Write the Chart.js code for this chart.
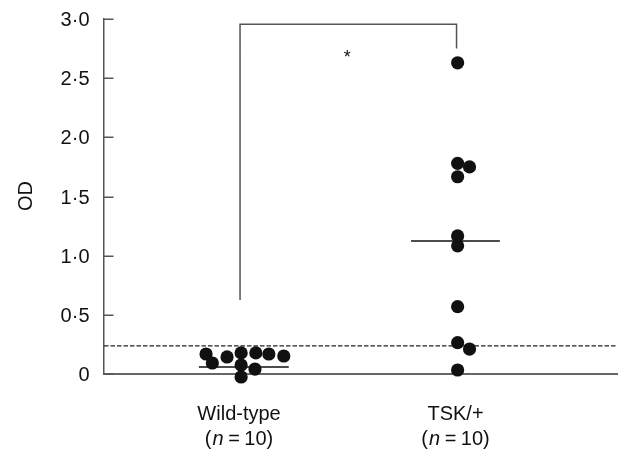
<!DOCTYPE html>
<html><head><meta charset="utf-8">
<script src="https://cdn.jsdelivr.net/npm/chart.js@4/dist/chart.umd.min.js"></script>
<style>html,body{margin:0;padding:0;background:#fff}#wrap{width:624px;height:452px}</style>
</head><body><div id="wrap"><canvas id="c" width="624" height="452"></canvas></div>
<script>
// ---- data ----
const categories = ['Wild-type', 'TSK/+'];
const groupN = [10, 10];
const yTicks = [0, 0.5, 1, 1.5, 2, 2.5, 3];
const yTickLabels = ['0', '0·5', '1·0', '1·5', '2·0', '2·5', '3·0'];
const yTitle = 'OD';
const wildX = [0.843, 0.872, 0.940, 1.005, 1.073, 1.133, 1.202, 1.005, 1.069, 1.005];
const wildY = [0.169, 0.093, 0.144, 0.178, 0.178, 0.169, 0.152, 0.076, 0.042, -0.025];
const tskX = [2.005, 2.005, 2.060, 2.005, 2.005, 2.005, 2.005, 2.005, 2.060, 2.005];
const tskY = [2.63, 1.78, 1.75, 1.667, 1.167, 1.083, 0.569, 0.265, 0.211, 0.034];
const medianWildX = [0.81, 1.225];
const medianWildY = [0.06, 0.06];
const medianTskX = [1.79, 2.20];
const medianTskY = [1.123, 1.123];
const cutoffX = [0.3716, 2.743];
const cutoffY = [0.237, 0.237];
const bracketX = [1, 1, 2, 2];
const bracketY = [0.625, 2.955, 2.955, 2.75];
const sigLabel = '*';
const sigPos = [1.495, 2.72];

const pts = (xs, ys) => xs.map((x, i) => ({x, y: ys[i]}));
const FONT = "'Liberation Sans', Arial, Helvetica, sans-serif";
const FS = 20;

const textPlugin = {
  id: 'texts',
  afterDraw(chart) {
    const ctx = chart.ctx;
    const xs = chart.scales.x, ys = chart.scales.y;
    const left = chart.chartArea.left;
    ctx.save();
    // inward y ticks
    ctx.strokeStyle = '#555';
    ctx.lineWidth = 1.5;
    yTicks.forEach(v => {
      const py = Math.round(ys.getPixelForValue(v)) + 0.25;
      ctx.beginPath();
      ctx.moveTo(left, py);
      ctx.lineTo(left + 9.5, py);
      ctx.stroke();
    });
    // y tick labels
    ctx.fillStyle = '#111';
    ctx.font = FS + 'px ' + FONT;
    ctx.textBaseline = 'alphabetic';
    ctx.textAlign = 'right';
    yTicks.forEach((v, i) => {
      const py = ys.getPixelForValue(v);
      ctx.fillText(yTickLabels[i], 89.5, py + 0.716 * FS / 2);
    });
    // y title
    ctx.save();
    ctx.font = FS + 'px ' + FONT;
    ctx.translate(25, 196);
    ctx.rotate(-Math.PI / 2);
    ctx.textAlign = 'center';
    ctx.fillText(yTitle, 0, 0.716 * FS / 2);
    ctx.restore();
    // category labels
    categories.forEach((c, i) => {
      const cx = xs.getPixelForValue(i + 1) - 1;
      ctx.font = FS + 'px ' + FONT;
      ctx.textAlign = 'center';
      ctx.fillText(c, cx, 420);
      // (n = 10) with italic n
      const parts = [
        {t: '(', f: FS + 'px ' + FONT, g: 1},
        {t: 'n', f: 'italic ' + FS + 'px ' + FONT, g: 4.5},
        {t: '=', f: FS + 'px ' + FONT, g: 4.5},
        {t: String(groupN[i]) + ')', f: FS + 'px ' + FONT, g: 0}
      ];
      let w = 0;
      parts.forEach(p => { ctx.font = p.f; p.w = ctx.measureText(p.t).width; w += p.w + p.g; });
      ctx.textAlign = 'left';
      let x0 = cx - w / 2;
      parts.forEach(p => { ctx.font = p.f; ctx.fillText(p.t, x0, 445); x0 += p.w + p.g; });
    });
    // significance star
    ctx.font = '18px ' + FONT;
    ctx.textAlign = 'center';
    ctx.fillText(sigLabel, xs.getPixelForValue(sigPos[0]), ys.getPixelForValue(sigPos[1]) + 11);
    ctx.restore();
  }
};

new Chart(document.getElementById('c'), {
  type: 'scatter',
  data: {
    datasets: [
      {label: categories[0], data: pts(wildX, wildY), pointRadius: 6.6, pointHoverRadius: 6.6,
       backgroundColor: '#111', borderWidth: 0, showLine: false, clip: false},
      {label: categories[1], data: pts(tskX, tskY), pointRadius: 6.6, pointHoverRadius: 6.6,
       backgroundColor: '#111', borderWidth: 0, showLine: false, clip: false},
      {label: 'median1', data: pts(medianWildX, medianWildY), showLine: true, pointRadius: 0,
       borderColor: '#111', borderWidth: 1.5},
      {label: 'median2', data: pts(medianTskX, medianTskY), showLine: true, pointRadius: 0,
       borderColor: '#111', borderWidth: 1.5},
      {label: 'cutoff', data: pts(cutoffX, cutoffY), showLine: true, pointRadius: 0,
       borderColor: '#222', borderWidth: 1.2, borderDash: [4.5, 2]},
      {label: 'bracket', data: pts(bracketX, bracketY), showLine: true, pointRadius: 0,
       borderColor: '#555', borderWidth: 1.5, tension: 0, clip: false}
    ]
  },
  options: {
    responsive: false,
    animation: false,
    devicePixelRatio: 1,
    layout: {padding: {top: 19, right: 3, left: 0, bottom: 0}},
    plugins: {legend: {display: false}, tooltip: {enabled: false}},
    scales: {
      x: {type: 'linear', min: cutoffX[0], max: cutoffX[1],
          grid: {display: false, drawTicks: false},
          ticks: {display: false},
          border: {display: true, color: '#666', width: 2},
          afterFit: s => { s.height = 78; }},
      y: {type: 'linear', min: 0, max: 3,
          grid: {display: false, drawTicks: false},
          ticks: {display: false, stepSize: 0.5},
          border: {display: true, color: '#555', width: 1.5},
          afterFit: s => { s.width = 104; }}
    }
  },
  plugins: [textPlugin]
});
</script>
</body></html>
